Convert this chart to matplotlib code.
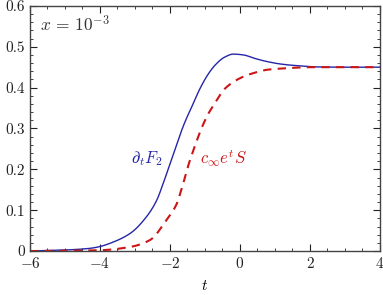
import numpy as np
import matplotlib
matplotlib.use("Agg")
import matplotlib.pyplot as plt
from matplotlib.ticker import MultipleLocator

plt.rcParams['font.family'] = 'serif'
plt.rcParams['font.serif'] = ['cmr10']
plt.rcParams['mathtext.fontset'] = 'cm'
plt.rcParams['axes.formatter.use_mathtext'] = True
plt.rcParams['axes.unicode_minus'] = True

# d_t F_2 (blue, solid)
t_f2 = [-6, -5, -4.29, -4, -3.71, -3.14, -2.67, -2.38, -2.2, -1.95, -1.6, -1.33,
        -1.14, -0.9, -0.7, -0.45, -0.19, 0.1, 0.4, 0.76, 1.14, 1.52, 2.29, 3, 4]
v_f2 = [0.0, 0.0025, 0.0066, 0.011, 0.019, 0.043, 0.084, 0.124, 0.164, 0.226,
        0.31, 0.362, 0.398, 0.434, 0.456, 0.474, 0.482, 0.480, 0.472, 0.464,
        0.458, 0.4545, 0.4505, 0.45, 0.45]

# c_inf e^t S (red, dashed)
t_s = [-6, -4, -3.14, -2.57, -2.1, -1.81, -1.71, -1.43, -0.93, -0.76, -0.4,
       0.1, 0.29, 0.8, 1.24, 2, 4]
v_s = [0.0, 0.002, 0.01, 0.027, 0.076, 0.115, 0.14, 0.222, 0.332, 0.356, 0.40,
       0.427, 0.433, 0.444, 0.447, 0.45, 0.45]


def pchip(x, y, n=400):
    # monotone cubic through the read points, only to draw a smooth line
    x = np.asarray(x, float)
    y = np.asarray(y, float)
    h = np.diff(x)
    d = np.diff(y) / h
    m = np.zeros_like(y)
    for k in range(1, len(x) - 1):
        if d[k - 1] * d[k] > 0:
            w1 = 2 * h[k] + h[k - 1]
            w2 = h[k] + 2 * h[k - 1]
            m[k] = (w1 + w2) / (w1 / d[k - 1] + w2 / d[k])
    m[0], m[-1] = d[0], d[-1]
    xs = np.linspace(x[0], x[-1], n)
    i = np.clip(np.searchsorted(x, xs) - 1, 0, len(h) - 1)
    s = (xs - x[i]) / h[i]
    h00 = 2 * s**3 - 3 * s**2 + 1
    h10 = s**3 - 2 * s**2 + s
    h01 = -2 * s**3 + 3 * s**2
    h11 = s**3 - s**2
    ys = h00 * y[i] + h10 * h[i] * m[i] + h01 * y[i + 1] + h11 * h[i] * m[i + 1]
    return xs, ys


fig = plt.figure(figsize=(3.83, 2.95), dpi=100)
ax = fig.add_axes([0.0783, 0.149, 0.9137, 0.831])

ax.plot(*pchip(t_f2, v_f2), color='#2525aa', lw=1.0)
ax.plot(*pchip(t_s, v_s), color='#cc1515', lw=1.5, dashes=(4, 3))

ax.set_xlim(-6, 4)
ax.set_ylim(0, 0.6)
ax.xaxis.set_major_locator(MultipleLocator(2))
ax.xaxis.set_minor_locator(MultipleLocator(0.5))
ax.yaxis.set_minor_locator(MultipleLocator(0.02))
ax.tick_params(which='both', direction='in', top=True, right=True,
               labelsize=11, colors='#222222')
ax.tick_params(which='major', length=5)
ax.tick_params(which='minor', length=2.5)
ax.set_yticks([0, 0.1, 0.2, 0.3, 0.4, 0.5, 0.6])
ax.set_yticklabels(['0', '0.1', '0.2', '0.3', '0.4', '0.5', '0.6'])
for s in ax.spines.values():
    s.set_color('#444444')
    s.set_linewidth(1.0)

ax.set_xlabel('$t$', fontsize=11, labelpad=6)

ax.text(-5.7, 0.555, '$x\\, =\\, 10^{-3}$', fontsize=12.5, color='#333333',
        va='center')
ax.text(-2.2, 0.227, r'$\partial_t F_2$', fontsize=12, color='#2525aa',
        ha='right', va='center')
ax.text(-1.14, 0.227, r'$c_\infty e^t S$', fontsize=12, color='#cc1515',
        ha='left', va='center')

fig.savefig('out.png', dpi=100)
